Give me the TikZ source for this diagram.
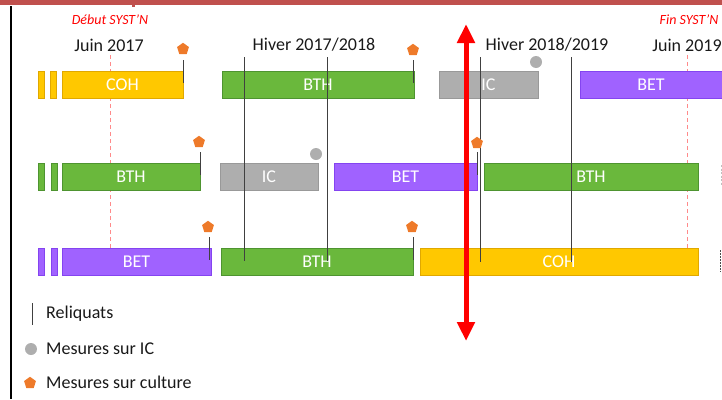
\documentclass[tikz,border=0pt]{standalone}
\usepackage{fontspec}
\setmainfont{Carlito}
\usetikzlibrary{shapes.geometric,arrows.meta}
\definecolor{cyel}{HTML}{FFC800}
\definecolor{cyelb}{HTML}{E0A800}
\definecolor{cgrn}{HTML}{6AB83C}
\definecolor{cgrnb}{HTML}{4E9430}
\definecolor{cgry}{HTML}{AEAEAE}
\definecolor{cgryb}{HTML}{999999}
\definecolor{cpur}{HTML}{A062FF}
\definecolor{cpurb}{HTML}{8444F0}
\definecolor{corg}{HTML}{EE7A2A}
\definecolor{ctop}{HTML}{C0504D}
\definecolor{cdash}{HTML}{FF8A8A}
\tikzset{
  bar/.style={draw, line width=0.8pt, inner sep=0pt, minimum height=27pt, text=white,
    font=\fontsize{18}{20}\selectfont},
  cohbar/.style={bar, fill=cyel, draw=cyelb},
  bthbar/.style={bar, fill=cgrn, draw=cgrnb},
  icbar/.style={bar, fill=cgry, draw=cgryb},
  betbar/.style={bar, fill=cpur, draw=cpurb},
  pent/.style={regular polygon, regular polygon sides=5, fill=corg, draw=none, inner sep=0pt, minimum size=12.5pt},
  dot/.style={circle, fill=cgry, draw=none, inner sep=0pt, minimum width=11pt, minimum height=12pt},
  stem/.style={draw=black!75, line width=0.9pt},
  reliq/.style={draw=black!75, line width=0.9pt},
  syst/.style={draw=cdash, line width=1pt, dash pattern=on 4pt off 3pt},
  datelbl/.style={font=\fontsize{18}{20}\selectfont, text=black!90, inner sep=0pt},
  redlbl/.style={font=\fontsize{14}{16}\selectfont\itshape, text=red, inner sep=0pt},
  leg/.style={font=\fontsize{18}{20}\selectfont, text=black!90, anchor=west, inner sep=0pt},
}
\begin{document}
\begin{tikzpicture}[x=1pt,y=-1pt]
\useasboundingbox (0,0) rectangle (722,399);
% top band and left line
\fill[ctop] (0,0) rectangle (722,5);
\fill[ctop] (132,4) rectangle (135,7);
\draw[black, line width=1.1pt] (11,6) -- (11,399);

% SYST'N dashed lines
\draw[syst] (110,55) -- (110,263);
\draw[syst] (687,55) -- (687,263);

% labels
\node[redlbl] (deb) at (110,20) {Début SYST’N};
\node[redlbl] (fin) at (689,20) {Fin SYST’N};
\node[datelbl] (j17) at (109,45) {Juin 2017};
\node[datelbl] (h17) at (314,45) {Hiver 2017/2018};
\node[datelbl] (h18) at (547,45) {Hiver 2018/2019};
\node[datelbl] (j19) at (687,45) {Juin 2019};

% Row 1
\node[cohbar, minimum width=6pt] (r1a) at (41,84.5) {};
\node[cohbar, minimum width=6pt] (r1b) at (53,84.5) {};
\node[cohbar, minimum width=121pt] (coh1) at (122.5,84.5) {COH};
\node[bthbar, minimum width=192pt] (bth1) at (318,84.5) {BTH};
\node[icbar, minimum width=99pt] (ic1) at (488.5,84.5) {IC};
\node[betbar, minimum width=142pt] (bet1) at (651,84.5) {BET};

% Row 2
\node[bthbar, minimum width=6pt] (r2a) at (41,177) {};
\node[bthbar, minimum width=6pt] (r2b) at (54,177) {};
\node[bthbar, minimum width=138pt] (bth2) at (131,177) {BTH};
\node[icbar, minimum width=98pt] (ic2) at (269,177) {IC};
\node[betbar, minimum width=143pt] (bet2) at (405.5,177) {BET};
\node[bthbar, minimum width=214pt] (bth3) at (591,177) {BTH};

% Row 3
\node[betbar, minimum width=6pt] (r3a) at (41,261.5) {};
\node[betbar, minimum width=6pt] (r3b) at (54,261.5) {};
\node[betbar, minimum width=149pt] (bet3) at (136.5,261.5) {BET};
\node[bthbar, minimum width=192pt] (bth4) at (317,261.5) {BTH};
\node[cohbar, minimum width=278pt] (coh2) at (559,261.5) {COH};

% reliquats vertical lines
\draw[reliq] (244,57) -- (244,261);
\draw[reliq] (327,57) -- (327,261);
\draw[reliq] (480,57) -- (480,262);
\draw[reliq] (571,57) -- (571,262);

% measures
\node[pent] (p1) at (183,49) {};
\coordinate (p1e) at (183,83);
\draw[stem] (183,60) -- (p1e);
\node[pent] (p2) at (413,50) {};
\coordinate (p2e) at (413,83);
\draw[stem] (413,60) -- (p2e);
\node[dot] (d1) at (536,62) {};

\node[pent] (p3) at (199,142) {};
\coordinate (p3e) at (200,175);
\draw[stem] (200,152) -- (p3e);
\node[dot] (d2) at (316,154) {};
\node[pent] (p4) at (477,143) {};
\coordinate (p4e) at (477,175);
\draw[stem] (477,152) -- (p4e);

\node[pent] (p5) at (208,227) {};
\coordinate (p5e) at (209,260);
\draw[stem] (209,237) -- (p5e);
\node[pent] (p6) at (412,227) {};
\coordinate (p6e) at (413,260);
\draw[stem] (413,237) -- (p6e);

% right-edge fragments
\draw[black!25, line width=1pt, dash pattern=on 2pt off 1.5pt] (721,165) -- (721,186);
\draw[black!70, line width=1pt, dash pattern=on 2pt off 1pt] (720,250) -- (720,272);

% big red double arrow
\coordinate (at) at (466,24);
\coordinate (ab) at (466,341);
\draw[red, line width=5pt, {Triangle[width=17pt,length=19pt]}-{Triangle[width=17pt,length=19pt]}] (at) -- (ab);

% legend
\draw[reliq] (32,303) -- (32,325);
\node[leg] (l1) at (46,314) {Reliquats};
\node[dot] (ld) at (31,349) {};
\node[leg] (l2) at (46,349) {Mesures sur IC};
\node[pent] (lp) at (30,383) {};
\node[leg] (l3) at (46,382) {Mesures sur culture};
\end{tikzpicture}
\end{document}
